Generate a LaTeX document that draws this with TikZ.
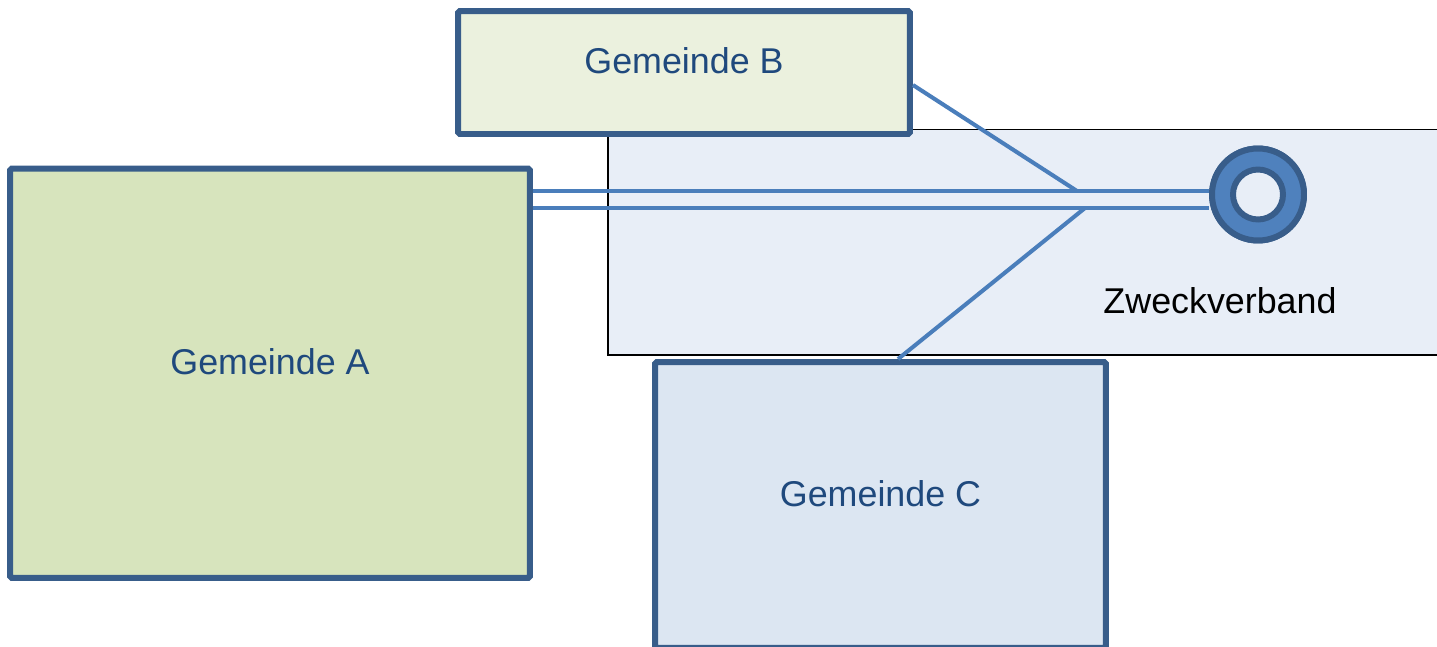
\documentclass[tikz,border=0pt]{standalone}
\usepackage{fontspec}
\setmainfont{Liberation Sans}
\usepackage{tikz}
\definecolor{rahmen}{HTML}{385D8A}
\definecolor{linie}{HTML}{4A7EBB}
\definecolor{ringfill}{HTML}{4F81BD}
\definecolor{schrift}{HTML}{1F497D}
\definecolor{fillA}{HTML}{D7E4BD}
\definecolor{fillB}{HTML}{EBF1DE}
\definecolor{fillC}{HTML}{DCE6F2}
\definecolor{fillZ}{HTML}{E8EEF7}

\begin{document}
\begin{tikzpicture}[x=0.02cm, y=-0.02cm,
  every node/.style = {inner sep=0pt, font=\fontsize{20.4}{24}\selectfont},
  gemeinde/.style = {shape=rectangle, rounded corners=1pt, draw=rahmen,
    line width=3.4pt, text=schrift, text height=0.73em, text depth=0.57em},
  verband/.style = {shape=rectangle, draw=black, line width=1.1pt, fill=fillZ},
  verbindung/.style = {draw=linie, line width=2.3pt}]
  \useasboundingbox (0,0) rectangle (1437,646);
  \node[verband, minimum width=16.84cm, minimum height=4.51cm] (zv) at (1029,242.25) {};
  \node (zvtext) at (1220,300.5) {Zweckverband};
  \node[gemeinde, fill=fillB, minimum width=9.04cm, minimum height=2.46cm] (B) at (684,72.5) {Gemeinde B};
  \node[gemeinde, fill=fillA, minimum width=10.4cm, minimum height=8.19cm] (A) at (270,373.25) {Gemeinde A};
  \node[gemeinde, fill=fillC, minimum width=9.02cm, minimum height=5.72cm] (C) at (880.5,505) {Gemeinde C};
  % Verbindungen zum Verband
  \coordinate (b1) at (1077,191);
  \coordinate (c1) at (1085,208);
  \node[circle, draw=rahmen, fill=ringfill, line width=3.4pt, minimum size=1.84cm] (ring) at (1258,194.5) {};
  \draw[verbindung] (A.east |- b1) -- (ring.west |- b1);
  \draw[verbindung] (A.east |- c1) -- (ring.west |- c1);
  \draw[verbindung] ([yshift=-0.25cm]B.east) -- (b1);
  \draw[verbindung] ([xshift=0.35cm]C.north) -- (c1);
  \node[circle, draw=rahmen, fill=ringfill, line width=3.4pt, minimum size=1.84cm] (ringtop) at (ring) {};
  \node[circle, draw=rahmen, fill=fillZ, line width=3.4pt, minimum size=1cm] (hole) at (ring) {};
\end{tikzpicture}
\end{document}
